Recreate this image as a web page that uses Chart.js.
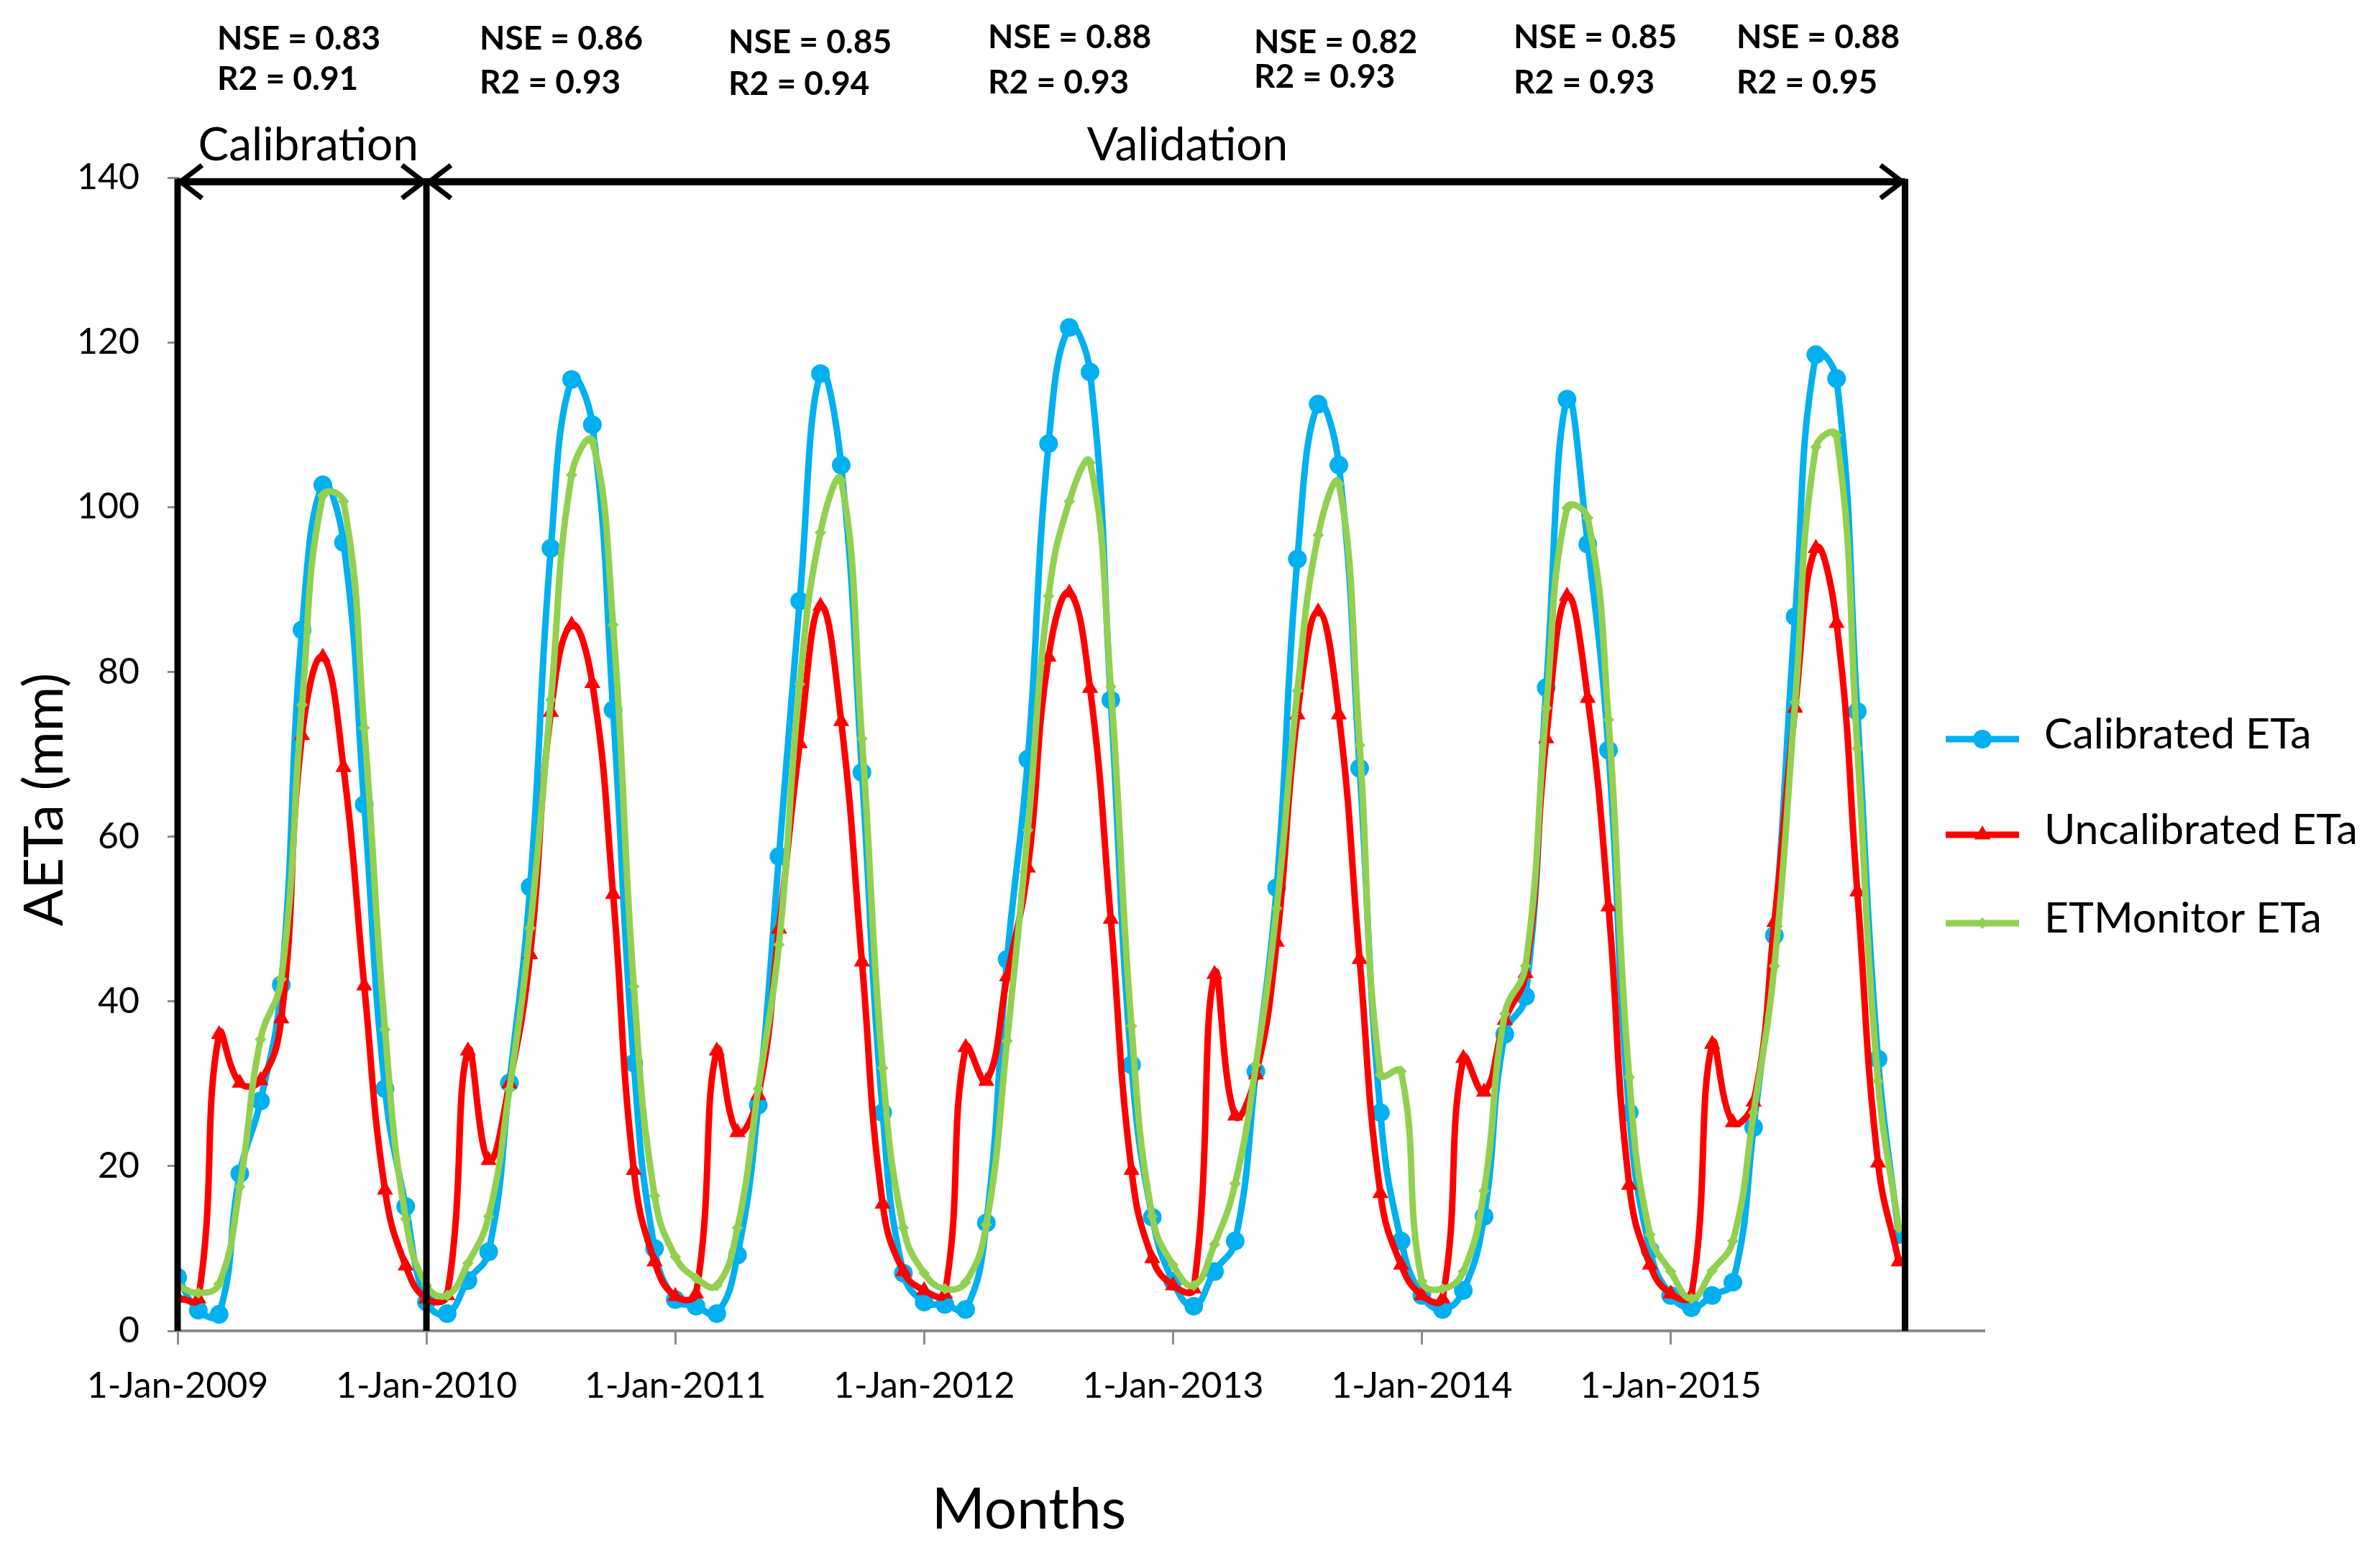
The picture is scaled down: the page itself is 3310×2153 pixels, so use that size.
<!DOCTYPE html>
<html>
<head>
<meta charset="utf-8">
<title>AETa calibration / validation</title>
<script src="https://cdn.jsdelivr.net/npm/chart.js@4.4.1/dist/chart.umd.min.js"></script>
<style>
  html, body { margin: 0; padding: 0; background: #fff; }
  #wrap { width: 3310px; height: 2153px; position: relative; }
  canvas { display: block; }
</style>
</head>
<body>
<div id="wrap"><canvas id="etaChart" width="3310" height="2153"></canvas></div>
<script>
// monthly values, Jan 2009 .. Dec 2015 (mm)
const CALIBRATED = [
  6.5, 2.5, 2.0, 19.1, 27.9, 42.0, 85.1, 102.7, 95.7, 63.9, 29.4, 15.1,
  3.5, 2.1, 6.1, 9.6, 30.1, 53.9, 95.0, 115.5, 110.0, 75.4, 32.5, 10.0,
  3.8, 3.0, 2.1, 9.2, 27.4, 57.6, 88.6, 116.2, 105.1, 67.8, 26.5, 7.0,
  3.5, 3.2, 2.6, 13.1, 45.1, 69.4, 107.7, 121.8, 116.4, 76.6, 32.3, 13.8,
  6.0, 3.0, 7.2, 10.9, 31.5, 53.8, 93.7, 112.5, 105.1, 68.3, 26.5, 10.9,
  4.3, 2.6, 4.9, 13.9, 36.0, 40.6, 78.1, 113.1, 95.5, 70.5, 26.5, 9.8,
  4.3, 2.8, 4.3, 5.9, 24.7, 48.0, 86.7, 118.5, 115.6, 75.2, 33.0, 11.7
];
const UNCALIBRATED = [
  4.0, 3.9, 36.0, 30.1, 30.4, 37.9, 72.3, 81.8, 68.4, 41.9, 17.1, 7.9,
  3.9, 4.3, 34.0, 20.7, 30.0, 45.7, 75.1, 85.7, 78.6, 53.0, 19.5, 8.4,
  4.2, 4.5, 34.0, 24.1, 28.6, 48.8, 71.3, 88.0, 74.0, 44.8, 15.4, 7.2,
  4.9, 4.5, 34.4, 30.3, 43.0, 56.2, 81.8, 89.6, 78.0, 50.0, 19.5, 8.8,
  5.5, 5.1, 43.3, 26.1, 31.1, 47.2, 74.8, 87.3, 74.8, 45.1, 16.7, 8.0,
  4.3, 3.9, 33.1, 29.0, 37.7, 43.4, 71.9, 89.2, 76.8, 51.5, 17.7, 8.0,
  4.5, 4.3, 34.8, 25.3, 27.8, 49.6, 75.6, 95.0, 85.9, 53.3, 20.4, 8.4
];
const ETMONITOR = [
  5.5, 4.6, 5.7, 17.5, 35.4, 42.7, 76.0, 101.4, 100.7, 73.2, 36.6, 13.6,
  5.5, 4.3, 8.2, 13.9, 29.3, 48.9, 76.6, 103.9, 108.0, 85.7, 41.8, 16.4,
  9.0, 6.4, 5.5, 12.5, 29.4, 46.9, 78.5, 96.9, 103.2, 71.9, 31.9, 12.5,
  7.0, 5.1, 5.9, 12.9, 35.2, 60.8, 89.2, 100.7, 105.4, 78.2, 37.0, 13.9,
  8.0, 5.5, 10.5, 17.9, 32.3, 51.3, 77.7, 96.6, 102.8, 71.1, 31.1, 31.5,
  6.0, 5.1, 7.2, 17.0, 38.5, 44.3, 75.6, 99.9, 98.7, 74.2, 30.8, 11.7,
  7.2, 3.9, 7.3, 10.9, 26.5, 44.3, 76.3, 107.3, 108.7, 70.7, 30.3, 12.5
];

const SERIES_NAMES = ['Calibrated ETa', 'Uncalibrated ETa', 'ETMonitor ETa'];
const TICK_MONTHS = [0, 12, 24, 36, 48, 60, 72];
const TICK_LABELS = ['1-Jan-2009', '1-Jan-2010', '1-Jan-2011', '1-Jan-2012', '1-Jan-2013', '1-Jan-2014', '1-Jan-2015'];
const NSE = ['0.83', '0.86', '0.85', '0.88', '0.82', '0.85', '0.88'];
const R2 = ['0.91', '0.93', '0.94', '0.93', '0.93', '0.93', '0.95'];
const PERIODS = ['Calibration', 'Validation'];
const PERIOD_BOUNDS = [0, 12, 83.3];   // months, edges of the periods

// layout (canvas px)
const FONT = 'Lato, "Open Sans", sans-serif';
const STAT_X = [302, 667, 1013, 1374, 1744, 2105, 2415];
const STAT_NSE_Y = [69, 69, 74, 67, 74, 67, 67];
const STAT_R2_Y = [125, 130, 132, 130, 122, 130, 130];
const PERIOD_LABEL_AT = [6.3, 48.7];
const ARROW_LEVEL = 139.5;

const COLORS = ['#00B0F0', '#FF0000', '#92D050'];
const POINT_STYLES = ['circle', 'triangle', 'rectRot'];
const POINT_RADII = [13, 13, 8];

const toXY = arr => arr.map((v, i) => ({ x: i, y: v }));

function makeDataset(idx, values, order) {
    return {
        label: SERIES_NAMES[idx],
        data: toXY(values),
        borderColor: COLORS[idx],
        backgroundColor: COLORS[idx],
        borderWidth: 9,
        pointStyle: POINT_STYLES[idx],
        pointRadius: POINT_RADII[idx],
        pointBorderWidth: 0,
        pointBackgroundColor: COLORS[idx],
        tension: 0.45,
        fill: false,
        order: order
    };
}

// black period lines, arrows, texts and legend
const overlayPlugin = {
    id: 'overlay',
    afterDatasetsDraw(chart) {
        const { ctx, scales: { x, y } } = chart;
        const top = y.getPixelForValue(ARROW_LEVEL);
        const bottom = y.getPixelForValue(0);
        ctx.save();
        ctx.strokeStyle = '#000';
        ctx.lineWidth = 9;
        PERIOD_BOUNDS.forEach(b => {
            const px = x.getPixelForValue(b);
            ctx.beginPath();
            ctx.moveTo(px, top - 4);
            ctx.lineTo(px, bottom);
            ctx.stroke();
        });
        for (let i = 0; i < PERIOD_BOUNDS.length - 1; i++) {
            const a = x.getPixelForValue(PERIOD_BOUNDS[i]);
            const b = x.getPixelForValue(PERIOD_BOUNDS[i + 1]);
            ctx.lineWidth = 10;
            ctx.beginPath();
            ctx.moveTo(a, top);
            ctx.lineTo(b, top);
            ctx.stroke();
            ctx.lineWidth = 7;
            ctx.beginPath();
            ctx.moveTo(a + 34, top - 23);
            ctx.lineTo(a + 4, top);
            ctx.lineTo(a + 34, top + 23);
            ctx.moveTo(b - 34, top - 23);
            ctx.lineTo(b - 4, top);
            ctx.lineTo(b - 34, top + 23);
            ctx.stroke();
        }
        ctx.restore();
    },
    afterDraw(chart) {
        const { ctx, scales: { x } } = chart;
        ctx.save();
        ctx.fillStyle = '#000';

        // NSE / R2 per year
        ctx.font = 'bold 46px ' + FONT;
        ctx.textAlign = 'left';
        ctx.textBaseline = 'alphabetic';
        NSE.forEach((v, i) => {
            ctx.fillText('NSE = ' + v, STAT_X[i], STAT_NSE_Y[i]);
            ctx.fillText('R2 = ' + R2[i], STAT_X[i], STAT_R2_Y[i]);
        });

        // period names
        ctx.font = '64px ' + FONT;
        ctx.textAlign = 'center';
        PERIODS.forEach((p, i) => {
            ctx.fillText(p, x.getPixelForValue(PERIOD_LABEL_AT[i]), 223);
        });

        // axis titles
        ctx.font = '80px ' + FONT;
        ctx.textBaseline = 'middle';
        ctx.fillText('Months', 1431, 2100);
        ctx.save();
        ctx.translate(62, 1112);
        ctx.rotate(-Math.PI / 2);
        ctx.font = '76px ' + FONT;
        ctx.fillText('AETa (mm)', 0, 0);
        ctx.restore();

        // legend
        const legendY = [1028, 1161, 1284];
        chart.data.datasets.forEach((ds, i) => {
            const yy = legendY[i];
            ctx.strokeStyle = ds.borderColor;
            ctx.lineWidth = 9;
            ctx.beginPath();
            ctx.moveTo(2706, yy);
            ctx.lineTo(2808, yy);
            ctx.stroke();
            ctx.fillStyle = ds.borderColor;
            Chart.helpers.drawPoint(ctx, {
                pointStyle: ds.pointStyle, radius: ds.pointRadius, rotation: 0, borderWidth: 0
            }, 2757, yy);
            ctx.fillStyle = '#000';
            ctx.font = '59px ' + FONT;
            ctx.textAlign = 'left';
            ctx.textBaseline = 'middle';
            ctx.fillText(ds.label, 2843, yy - 6);
        });
        ctx.restore();
    }
};

const ctx = document.getElementById('etaChart').getContext('2d');
const etaChart = new Chart(ctx, {
    type: 'line',
    data: {
        datasets: [
            makeDataset(0, CALIBRATED, 3),
            makeDataset(1, UNCALIBRATED, 2),
            makeDataset(2, ETMONITOR, 1)
        ]
    },
    options: {
        responsive: false,
        devicePixelRatio: 1,
        animation: false,
        layout: { padding: { left: 0, top: 247, right: 551, bottom: 0 } },
        plugins: {
            legend: { display: false },
            tooltip: { enabled: false }
        },
        scales: {
            x: {
                type: 'linear',
                min: 0,
                max: 87.1,
                afterBuildTicks: scale => { scale.ticks = TICK_MONTHS.map(v => ({ value: v })); },
                afterFit: scale => { scale.height = 302; },
                ticks: {
                    callback: (value, index) => TICK_LABELS[index],
                    color: '#000',
                    font: { family: FONT, size: 50 },
                    padding: 28,
                    maxRotation: 0,
                    autoSkip: false
                },
                grid: { drawOnChartArea: false, drawTicks: true, tickLength: 19, color: '#8c8c8c', lineWidth: 3 },
                border: { display: true, color: '#8c8c8c', width: 4 }
            },
            y: {
                min: 0,
                max: 140,
                afterFit: scale => { scale.width = 247; },
                ticks: {
                    stepSize: 20,
                    color: '#000',
                    font: { family: FONT, size: 50 },
                    padding: 39
                },
                grid: { drawOnChartArea: false, drawTicks: true, tickLength: 14, color: '#8c8c8c', lineWidth: 3 },
                border: { display: true, color: '#8c8c8c', width: 3 }
            }
        }
    },
    plugins: [overlayPlugin]
});
</script>
</body>
</html>
